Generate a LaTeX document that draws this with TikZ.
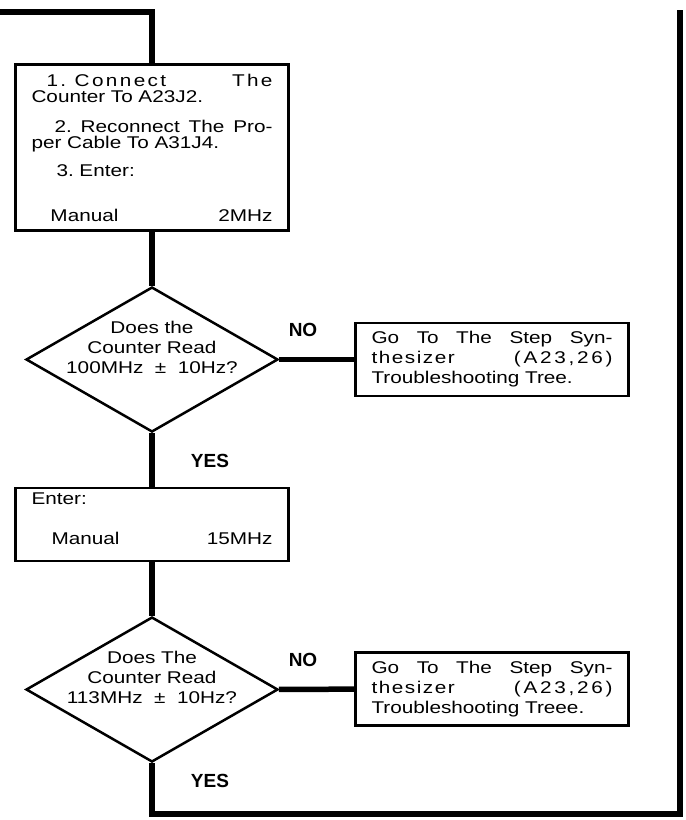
\documentclass[tikz,border=0pt]{standalone}
\usepackage{fontspec}
\setmainfont[FakeStretch=1.22]{Liberation Sans}
\newfontfamily\answerfont{Liberation Sans}
\usetikzlibrary{shapes.geometric}

\newcommand{\decisiontext}[1]{\makebox[0pt]{\raisebox{0pt}[\height][\dimexpr\depth+20pt\relax]{\begin{tabular}{@{}c@{}}#1\end{tabular}}}}
\newcommand{\spaced}[2]{{\addfontfeature{LetterSpace=#1}#2}}

\begin{document}
\begin{tikzpicture}[
    x=1pt, y=-1pt,
    font=\fontsize{17}{20}\selectfont,
    stepbox/.style={
        rectangle, draw=black, line width=2.5pt,
        fill=white,
        text width=241pt, inner xsep=16pt, inner ysep=0pt,
        align=left
    },
    decision/.style={
        diamond, draw=black, line width=2.5pt,
        fill=white,
        minimum width=252pt, minimum height=145pt,
        aspect=1.74, inner sep=0pt
    },
    answer/.style={font=\answerfont\bfseries\fontsize{19}{19}\selectfont},
    flow/.style={draw=black, line width=5.5pt}
]
\useasboundingbox (0,0) rectangle (686,820);

% -------------------------
% 1. Setup: counter to A23J2
% -------------------------
\coordinate (inlet) at (0,12);
\node[stepbox, minimum height=166pt, font={\fontsize{17}{16}\selectfont}] (setup) at (152,147.5) {%
\hspace*{15pt}\spaced{14}{1. Connect}\hfill \spaced{14}{The}\\
Counter To A23J2.\\[14pt]
\hspace*{23pt}2.\hfill Reconnect\hfill The\hfill Pro-\\
per Cable To A31J4.\\[12pt]
\hspace*{25pt}3.\ Enter:\\[29pt]
\hspace*{19pt}Manual\hfill 2MHz};

% -------------------------
% 2. First check: 100MHz
% -------------------------
\node[decision] (check1) at (152,359.5) {\decisiontext{Does the\\Counter Read\\100MHz~~±~~10Hz?}};
\node[stepbox, minimum height=73pt] (fail1) at (492,359.5) {%
Go\hfill To\hfill The\hfill Step\hfill Syn-\\
\spaced{9}{thesizer}\hfill \spaced{16}{(A23,26)}\\
Troubleshooting Tree.};
\node[answer] (no1) at (303,330) {NO};
\node[answer] (yes1) at (210,461) {YES};

% -------------------------
% 3. Second setting: 15MHz
% -------------------------
\node[stepbox, minimum height=73pt] (enter) at (152,524.5) {%
Enter:\\[20pt]
\hspace*{20pt}Manual\hfill 15MHz\par\vspace*{12pt}\hrule height 0pt width 0pt};

% -------------------------
% 4. Second check: 113MHz
% -------------------------
\node[decision] (check2) at (152,689.5) {\decisiontext{Does The\\Counter Read\\113MHz~~±~~10Hz?}};
\node[stepbox, minimum height=73pt] (fail2) at (492,689) {%
Go\hfill To\hfill The\hfill Step\hfill Syn-\\
\spaced{9}{thesizer}\hfill \spaced{16}{(A23,26)}\\
Troubleshooting Treee.};
\node[answer] (no2) at (303,660) {NO};
\node[answer] (yes2) at (210,781) {YES};

% -------------------------
% FLOW LINES
% -------------------------
\coordinate (exitB) at (680,814);
\coordinate (exitT) at (680,10);

\draw[flow] (inlet) -| (setup);
\draw[flow] (setup) -- (check1);
\draw[flow] (check1) -- (fail1);
\draw[flow] (check1) -- (enter);
\draw[flow] (enter) -- (check2);
\draw[flow] (check2) -- (fail2);
\draw[flow] (check2) |- (exitB) -- (exitT);

\end{tikzpicture}
\end{document}
